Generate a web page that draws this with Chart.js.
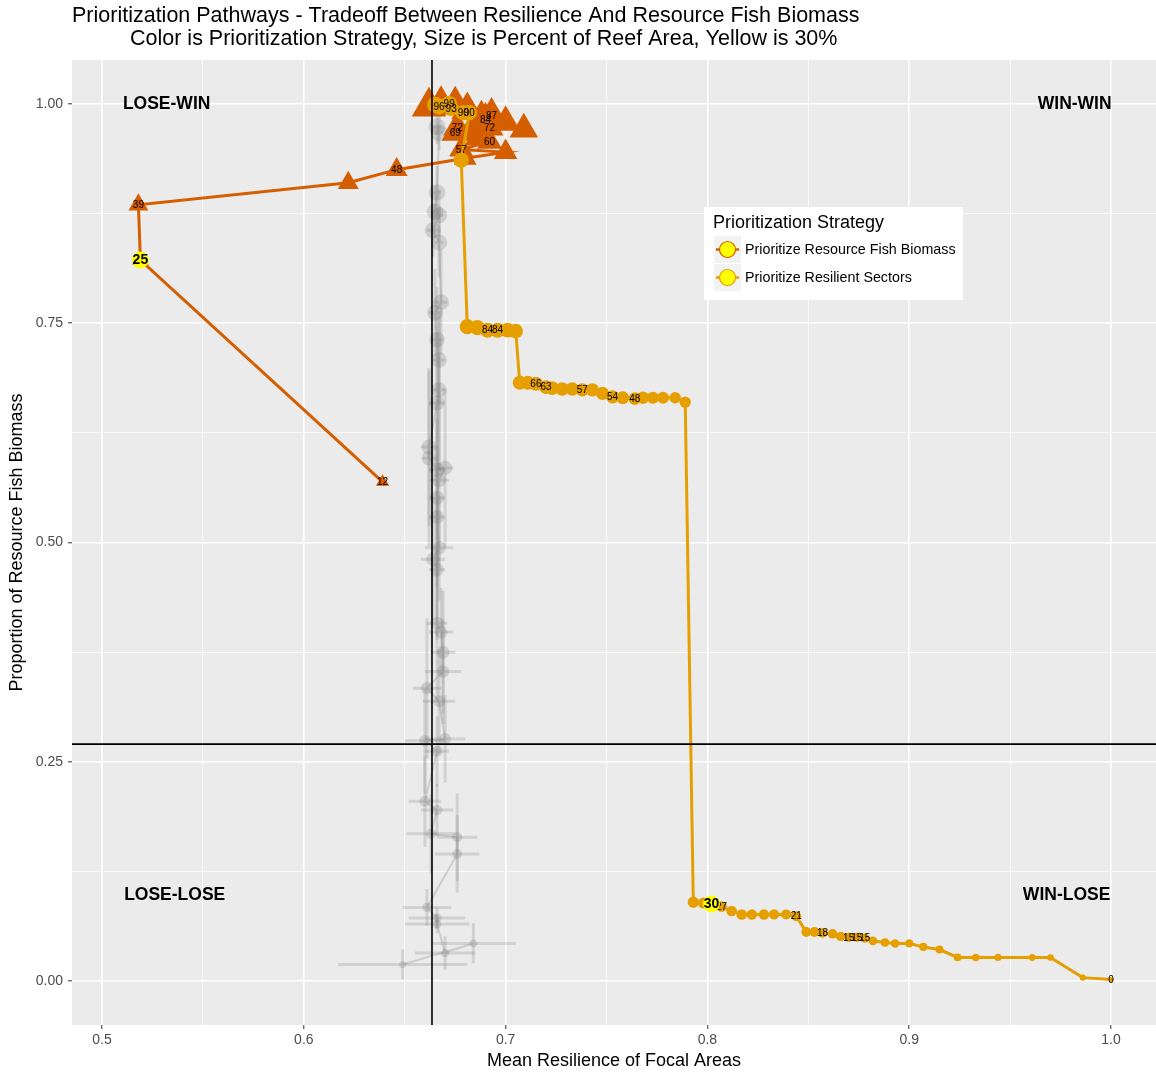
<!DOCTYPE html>
<html><head><meta charset="utf-8">
<script src="https://cdn.jsdelivr.net/npm/chart.js@4/dist/chart.umd.min.js"></script>
<style>html,body{margin:0;padding:0;background:#fff;overflow:hidden}#wrap{width:1156px;height:1074px;overflow:hidden}canvas{display:block}</style>
</head><body><div id="wrap"><canvas id="c" width="1156" height="1074" style="width:1156px;height:1074px"></canvas></div>
<script>
// ---------- data ----------
const xTicks = [0.5, 0.6, 0.7, 0.8, 0.9, 1.0];
const xMinor = [0.55, 0.65, 0.75, 0.85, 0.95];
const yTicks = [0, 0.25, 0.5, 0.75, 1.0];
const yMinor = [0.125, 0.375, 0.625, 0.875];
const refX = 0.6635;
const refY = 0.2702;

// Prioritize Resilient Sectors (gold circles)
const resX = [1.000,0.986,0.970,0.961,0.944,0.933,0.924,0.915,0.907,0.900,0.893,0.888,0.882,0.878,0.874,0.870,0.866,0.862,0.857,0.853,0.849,0.844,0.839,0.833,0.828,0.822,0.817,0.812,0.807,0.802,0.798,0.793,
  0.789,0.784,0.778,0.773,0.768,0.764,0.758,0.753,0.748,0.743,0.738,0.733,0.728,0.723,0.720,0.715,0.711,0.707,
  0.705,0.701,0.696,0.691,0.686,0.681,
  0.678,0.682,0.679,0.673,0.667,0.672,0.665];
const resY = [0.002,0.004,0.027,0.027,0.027,0.027,0.027,0.036,0.039,0.043,0.043,0.044,0.046,0.049,0.050,0.050,0.051,0.054,0.055,0.056,0.056,0.074,0.076,0.076,0.076,0.076,0.076,0.080,0.085,0.088,0.089,0.090,
  0.660,0.665,0.665,0.665,0.665,0.664,0.665,0.666,0.670,0.674,0.674,0.675,0.675,0.676,0.677,0.681,0.682,0.682,
  0.741,0.742,0.742,0.742,0.745,0.746,
  0.936,0.990,0.990,0.995,0.997,1.000,0.999];
const resPct = [0,1,2,3,4,5,6,7,8,9,10,11,12,15,15,15,16,17,18,19,20,21,22,23,24,25,26,26,27,30,31,32,
  33,36,39,42,45,48,51,54,55,56,57,58,60,62,63,66,67,68,
  75,78,84,84,85,86,
  87,90,90,93,96,99,99];
const resLab = ["0","","","","","","","","","","","","","15","15","15","","","18","","","21","","","","","","","27","30","","",
  "","","","","","48","","54","","","57","","","","63","66","","",
  "","","84","84","","",
  "","90","90","93","96","99",""];
const resHighlight = [29];

// Prioritize Resource Fish Biomass (orange triangles)
const bioX = [0.639,0.519,0.518,0.622,0.646,0.680,0.700,0.678,0.692,0.686,0.682,0.675,0.676,0.692,0.709,0.700,0.688,0.690,0.693,0.681,0.675,0.668,0.662];
const bioY = [0.569,0.822,0.885,0.910,0.925,0.938,0.945,0.948,0.957,0.961,0.968,0.967,0.973,0.973,0.971,0.979,0.985,0.982,0.987,0.993,0.999,0.999,0.997];
const bioPct = [12,25,39,44,48,51,54,57,60,63,66,69,72,72,75,78,81,84,87,90,93,96,99];
const bioLab = ["12","25","39","","48","","","57","60","","","69","72","72","","","","84","87","","","",""];
const bioHighlight = [1];

// Random prioritization (grey, with error bars)
const randX = [0.649,0.684,0.670,0.666,0.666,0.661,0.676,0.676,0.663,0.666,0.660,0.666,0.660,0.670,0.667,0.661,0.669,0.669,0.668,0.666,0.666,0.664,0.667,0.666,0.666,0.667,0.670,0.666,0.662,0.662,0.666,0.667,0.667,0.666,0.665,0.668,0.667,0.664,0.667,0.665,0.666,0.667,0.666];
const randY = [0.019,0.043,0.032,0.065,0.072,0.084,0.145,0.164,0.168,0.195,0.205,0.262,0.274,0.276,0.319,0.334,0.353,0.375,0.398,0.408,0.469,0.481,0.494,0.529,0.551,0.571,0.585,0.583,0.596,0.609,0.659,0.674,0.708,0.731,0.762,0.774,0.842,0.856,0.873,0.877,0.899,0.967,0.974];
const randXErr = [0.032,0.021,0.015,0.016,0.014,0.012,0.011,0.010,0.012,0.008,0.008,0.006,0.010,0.010,0.008,0.007,0.009,0.006,0.006,0.005,0.004,0.006,0.007,0.004,0.004,0.005,0.004,0.004,0.003,0.004,0.004,0.003,0.003,0.003,0.003,0.003,0.002,0.003,0.002,0.002,0.002,0.002,0.002];
const randYErr = [0.017,0.023,0.019,0.010,0.012,0.021,0.044,0.050,0.045,0.030,0.052,0.040,0.060,0.050,0.060,0.080,0.060,0.070,0.050,0.090,0.080,0.070,0.060,0.080,0.090,0.100,0.090,0.080,0.100,0.090,0.080,0.090,0.050,0.060,0.050,0.060,0.040,0.030,0.030,0.030,0.030,0.020,0.020];
const randPct = [3,5,7,9,12,14,16,18,21,23,25,27,30,32,34,36,39,41,43,46,48,50,52,55,57,59,61,64,66,68,70,73,75,77,79,82,84,86,88,91,93,96,98];

const quadLabels = [
  {text:"LOSE-WIN", x:0.532, y:1.0},
  {text:"WIN-WIN", x:0.982, y:1.0},
  {text:"LOSE-LOSE", x:0.536, y:0.098},
  {text:"WIN-LOSE", x:0.978, y:0.098}
];
const titleLines = ["Prioritization Pathways - Tradeoff Between Resilience And Resource Fish Biomass",
  "Color is Prioritization Strategy, Size is Percent of Reef Area, Yellow is 30%"];
const xTitle = "Mean Resilience of Focal Areas";
const yTitle = "Proportion of Resource Fish Biomass";
const legendTitle = "Prioritization Strategy";
const seriesNames = ["Prioritize Resource Fish Biomass", "Prioritize Resilient Sectors"];

// ---------- styles ----------
const GOLD = '#E69F00';
const ORANGE = '#D55E00';
const FONT = '"Liberation Sans", Arial, sans-serif';
Chart.defaults.font.family = FONT;

const circR = p => 2.5 + Math.sqrt(p) * 0.55;
const triR = p => 6 + p * 0.14;
const greyR = p => 2.5 + Math.sqrt(p) * 0.6;
const isMaj = (arr, v) => arr.some(t => Math.abs(t - v) < 1e-9);

const toPts = (xs, ys) => xs.map((x, i) => ({x, y: ys[i]}));

const bgPlugin = {
  id: 'panelBg',
  beforeDraw(chart) {
    const {ctx, chartArea: a} = chart;
    ctx.save();
    ctx.fillStyle = '#EBEBEB';
    ctx.fillRect(a.left, a.top, a.right - a.left, a.bottom - a.top);
    ctx.restore();
  }
};

const errPlugin = {
  id: 'errBars',
  beforeDatasetsDraw(chart) {
    const {ctx, chartArea: a, scales: {x, y}} = chart;
    ctx.save();
    ctx.beginPath(); ctx.rect(a.left, a.top, a.right - a.left, a.bottom - a.top); ctx.clip();
    ctx.strokeStyle = 'rgba(150,150,150,0.30)';
    ctx.lineWidth = 3;
    for (let i = 0; i < randX.length; i++) {
      const px = x.getPixelForValue(randX[i]), py = y.getPixelForValue(randY[i]);
      ctx.beginPath();
      ctx.moveTo(x.getPixelForValue(randX[i] - randXErr[i]), py);
      ctx.lineTo(x.getPixelForValue(randX[i] + randXErr[i]), py);
      ctx.moveTo(px, y.getPixelForValue(randY[i] - randYErr[i]));
      ctx.lineTo(px, y.getPixelForValue(randY[i] + randYErr[i]));
      ctx.stroke();
    }
    ctx.restore();
  }
};

const annoPlugin = {
  id: 'anno',
  afterDatasetsDraw(chart) {
    const {ctx, chartArea: a, scales: {x, y}} = chart;
    ctx.save();
    // reference lines
    ctx.strokeStyle = '#000'; ctx.lineWidth = 1.6;
    const vx = x.getPixelForValue(refX), hy = y.getPixelForValue(refY);
    ctx.beginPath(); ctx.moveTo(vx, a.top); ctx.lineTo(vx, a.bottom); ctx.stroke();
    ctx.beginPath(); ctx.moveTo(a.left, hy); ctx.lineTo(a.right, hy); ctx.stroke();
    // point labels
    ctx.textAlign = 'center'; ctx.textBaseline = 'middle';
    const drawLabels = (xs, ys, labs, hl) => {
      for (let i = 0; i < xs.length; i++) {
        if (!labs[i]) continue;
        const px = x.getPixelForValue(xs[i]), py = y.getPixelForValue(ys[i]);
        if (hl.includes(i)) {
          ctx.fillStyle = '#FFFF00';
          ctx.beginPath(); ctx.arc(px, py, 8.5, 0, Math.PI * 2); ctx.fill();
          ctx.fillStyle = '#000'; ctx.font = 'bold 14px ' + FONT;
        } else {
          ctx.fillStyle = '#000'; ctx.font = '10px ' + FONT;
        }
        ctx.fillText(labs[i], px, py + 0.5);
      }
    };
    drawLabels(bioX, bioY, bioLab, bioHighlight);
    drawLabels(resX, resY, resLab, resHighlight);
    // quadrant labels
    ctx.font = 'bold 17.5px ' + FONT; ctx.fillStyle = '#000';
    quadLabels.forEach(q => ctx.fillText(q.text, x.getPixelForValue(q.x), y.getPixelForValue(q.y)));
    // legend
    const lx = 704, ly = 207, lw = 259, lh = 93;
    ctx.fillStyle = '#FFFFFF'; ctx.fillRect(lx, ly, lw, lh);
    ctx.textAlign = 'left';
    ctx.fillStyle = '#000'; ctx.font = '18px ' + FONT;
    ctx.fillText(legendTitle, 713, 223);
    const cols = [ORANGE, GOLD];
    for (let k = 0; k < 2; k++) {
      const ky = 236 + k * 28;
      ctx.fillStyle = '#F2F2F2'; ctx.fillRect(714, ky, 27, 27);
      const cy = ky + 13.5;
      ctx.strokeStyle = cols[k]; ctx.lineWidth = 2.5;
      ctx.beginPath(); ctx.moveTo(716, cy); ctx.lineTo(739, cy); ctx.stroke();
      ctx.fillStyle = '#FFFF00';
      ctx.beginPath(); ctx.arc(727.5, cy, 8, 0, Math.PI * 2); ctx.fill();
      ctx.lineWidth = 1.2; ctx.stroke();
      ctx.fillStyle = '#000'; ctx.font = '14.3px ' + FONT;
      ctx.fillText(seriesNames[k], 745, cy + 0.5);
    }
    ctx.restore();
  },
  afterDraw(chart) {
    const {ctx, chartArea: a} = chart;
    ctx.save();
    ctx.fillStyle = '#000'; ctx.textBaseline = 'middle';
    ctx.font = '21.5px ' + FONT; ctx.textAlign = 'left';
    ctx.fillText(titleLines[0], 72, 16);
    ctx.fillText(titleLines[1], 130, 39);
    ctx.font = '18px ' + FONT; ctx.textAlign = 'center';
    ctx.fillText(xTitle, (a.left + a.right) / 2, 1061);
    ctx.translate(17, (a.top + a.bottom) / 2);
    ctx.rotate(-Math.PI / 2);
    ctx.fillText(yTitle, 0, 0);
    ctx.restore();
  }
};

new Chart(document.getElementById('c'), {
  type: 'scatter',
  data: {
    datasets: [
      {
        label: seriesNames[1], data: toPts(resX, resY), showLine: true,
        borderColor: GOLD, borderWidth: 3, backgroundColor: GOLD,
        pointBorderColor: GOLD, pointBorderWidth: 0, pointStyle: 'circle',
        pointRadius: c => circR(resPct[c.dataIndex]), order: 0
      },
      {
        label: seriesNames[0], data: toPts(bioX, bioY), showLine: true,
        borderColor: ORANGE, borderWidth: 3, backgroundColor: ORANGE,
        pointBorderColor: ORANGE, pointBorderWidth: 0, pointStyle: 'triangle',
        pointRadius: c => triR(bioPct[c.dataIndex]), order: 1
      },
      {
        label: 'Random', data: toPts(randX, randY), showLine: true,
        borderColor: 'rgba(150,150,150,0.35)', borderWidth: 2,
        backgroundColor: 'rgba(120,120,120,0.25)',
        pointBorderColor: 'rgba(120,120,120,0.25)', pointBorderWidth: 0,
        pointRadius: c => greyR(randPct[c.dataIndex]), order: 2
      }
    ]
  },
  options: {
    responsive: false, animation: false, events: [], devicePixelRatio: 1,
    layout: {autoPadding: false, padding: {top: 60, left: 0, right: 0, bottom: 0}},
    plugins: {legend: {display: false}, tooltip: {enabled: false}, title: {display: false}},
    scales: {
      x: {
        type: 'linear', min: 0.4851, max: 1.0223,
        afterBuildTicks: s => { s.ticks = xTicks.concat(xMinor).sort((p, q) => p - q).map(v => ({value: v})); },
        afterFit: s => { s.height = 49; s.paddingLeft = 0; s.paddingRight = 0; },
        ticks: {autoSkip: false, maxRotation: 0, minRotation: 0, padding: 3, color: '#4D4D4D', font: {size: 14},
          callback: v => isMaj(xTicks, v) ? v.toFixed(1) : ''},
        grid: {color: '#FFFFFF', lineWidth: c => (c.tick && isMaj(xTicks, c.tick.value)) ? 1.6 : 0.7,
          tickColor: c => (c.tick && isMaj(xTicks, c.tick.value)) ? '#333333' : 'rgba(0,0,0,0)', tickLength: 4, tickWidth: 1},
        border: {display: false}
      },
      y: {
        type: 'linear', min: -0.05, max: 1.05,
        afterBuildTicks: s => { s.ticks = yTicks.concat(yMinor).sort((p, q) => p - q).map(v => ({value: v})); },
        afterFit: s => { s.width = 72; s.paddingTop = 0; s.paddingBottom = 0; },
        ticks: {autoSkip: false, padding: 5, color: '#4D4D4D', font: {size: 14},
          callback: v => isMaj(yTicks, v) ? v.toFixed(2) : ''},
        grid: {color: '#FFFFFF', lineWidth: c => (c.tick && isMaj(yTicks, c.tick.value)) ? 1.6 : 0.7,
          tickColor: c => (c.tick && isMaj(yTicks, c.tick.value)) ? '#333333' : 'rgba(0,0,0,0)', tickLength: 4, tickWidth: 1},
        border: {display: false}
      }
    }
  },
  plugins: [bgPlugin, errPlugin, annoPlugin]
});
</script>
</body></html>
